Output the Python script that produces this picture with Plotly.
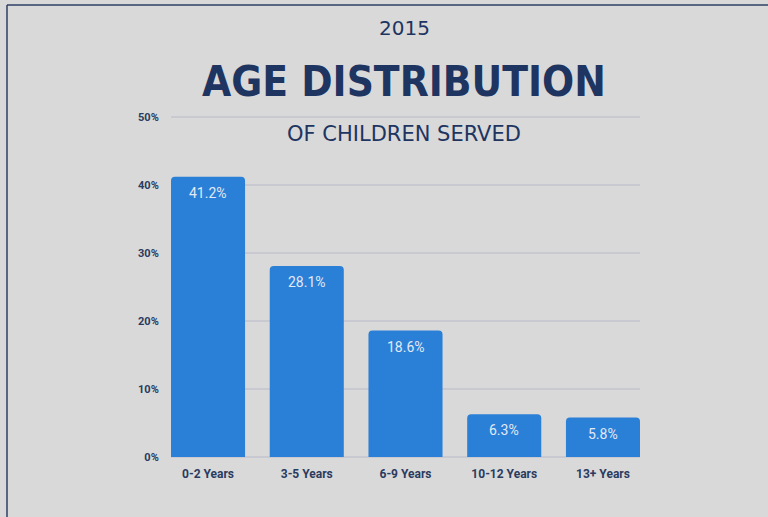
import plotly.graph_objects as go

categories = ["0-2 Years", "3-5 Years", "6-9 Years", "10-12 Years", "13+ Years"]
values = [41.2, 28.1, 18.6, 6.3, 5.8]
tick_vals = [0, 10, 20, 30, 40, 50]
tick_text = ["0%", "10%", "20%", "30%", "40%", "50%"]

W, H = 768, 517
L, R, T, B = 171, 128, 115, 60

BAR = "#2a7fd7"
NAVY = "#1e3461"
TICK = "#2b3b60"
BG = "#d9d9d9"

fig = go.Figure(go.Bar(
    x=categories, y=values, width=0.75,
    marker=dict(color=BAR, cornerradius=4, line=dict(width=0)),
    hoverinfo="skip",
))

for c, v in zip(categories, values):
    fig.add_annotation(x=c, y=v, xref="x", yref="y", text=f"{v}%",
                       showarrow=False, yshift=-16, yanchor="middle",
                       font=dict(family="Roboto", size=14, color="#e2e9f4"))

def px(x):
    return (x - L) / (W - L - R)

def py(y):
    return (H - B - y) / (H - T - B)

fig.add_annotation(xref="paper", yref="paper", x=px(404), y=py(28), text="2015",
                   showarrow=False, xanchor="center", yanchor="middle",
                   font=dict(family="DejaVu Sans", size=20, color=NAVY))
fig.add_annotation(xref="paper", yref="paper", x=px(404), y=py(82), text="AGE DISTRIBUTION",
                   showarrow=False, xanchor="center", yanchor="middle",
                   font=dict(family="DejaVu Sans Condensed, DejaVu Sans", size=42, color=NAVY, weight="bold"))
fig.add_annotation(xref="paper", yref="paper", x=px(404), y=py(134), text="OF CHILDREN SERVED",
                   showarrow=False, xanchor="center", yanchor="middle",
                   font=dict(family="DejaVu Sans", size=21, color=NAVY))

# frame lines (top and left)
fig.add_shape(type="line", xref="paper", yref="paper", x0=px(7), x1=px(770), y0=py(5), y1=py(5),
              line=dict(color="#2e3f63", width=1.5), layer="above")
fig.add_shape(type="line", xref="paper", yref="paper", x0=px(7), x1=px(7), y0=py(5), y1=py(520),
              line=dict(color="#2e3f63", width=1.5), layer="above")

fig.update_layout(
    width=W, height=H,
    margin=dict(l=L, r=R, t=T, b=B),
    paper_bgcolor=BG, plot_bgcolor=BG,
    showlegend=False,
    xaxis=dict(range=[-0.375, 4.375], showgrid=False, zeroline=False, showline=False,
               ticks="outside", ticklen=6, tickcolor="rgba(0,0,0,0)",
               tickfont=dict(family="Roboto", size=12, color=TICK, weight="bold")),
    yaxis=dict(range=[0, 50.3], tickvals=tick_vals, ticktext=tick_text,
               showgrid=True, gridcolor="#c9c9d1", gridwidth=1.5,
               zeroline=True, zerolinecolor="#c9c9d1", zerolinewidth=1.5,
               showline=False, ticks="outside", ticklen=9, tickcolor="rgba(0,0,0,0)",
               tickfont=dict(family="Roboto", size=11, color=TICK, weight="bold")),
)

fig.write_html("out.html", config={"displayModeBar": False},
               post_script="document.body.style.margin='0';document.body.style.overflow='hidden';")
